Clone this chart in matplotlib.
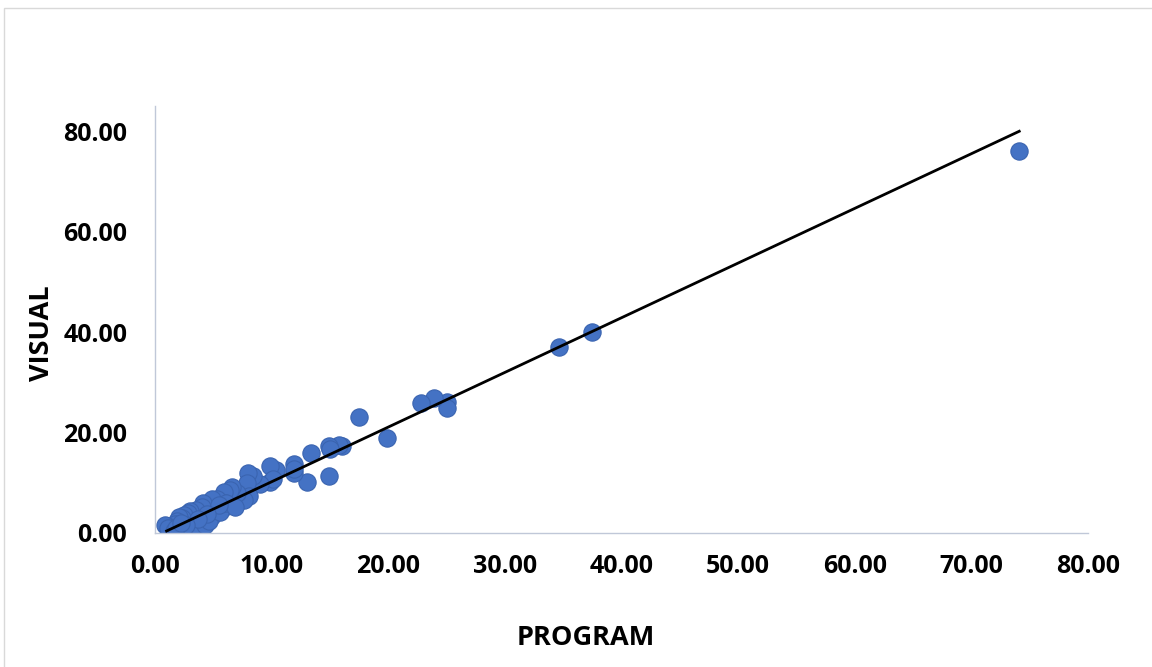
import numpy as np
import matplotlib.pyplot as plt
from matplotlib.patches import Rectangle

# values
program = [74.1, 37.5, 34.6, 25.0, 25.0, 23.9, 22.8, 19.9, 17.5, 16.0,
           15.8, 14.9, 15.0, 14.9, 13.4, 13.0, 11.9, 11.9, 11.9, 10.4,
           9.9, 9.9, 10.1, 9.0, 8.4, 8.0, 7.9, 8.1, 7.6, 7.0,
           6.6, 6.4, 5.9, 6.0, 5.8, 5.3, 4.9, 5.1, 4.9, 4.3,
           4.1, 4.0, 3.8, 3.5, 3.3, 3.0, 3.0, 2.8, 2.6, 2.5,
           2.3, 2.1, 2.0, 1.9, 1.7, 1.5, 1.4, 1.3, 1.2, 1.0,
           0.9, 1.1, 1.6, 2.1, 2.5, 2.9, 3.3, 3.9, 4.3, 4.6,
           5.6, 6.1, 6.9, 5.5, 4.5, 3.7, 2.7, 1.8, 2.2]
visual = [76.0, 40.0, 37.0, 26.1, 24.8, 26.8, 25.9, 19.0, 23.1, 17.3,
          17.5, 17.3, 16.7, 11.4, 16.0, 10.1, 13.7, 11.9, 12.8, 12.5,
          13.3, 10.2, 10.8, 9.7, 11.3, 11.9, 10.0, 7.4, 6.6, 7.9,
          9.2, 8.6, 8.2, 6.0, 4.9, 6.8, 6.7, 4.6, 3.3, 4.2,
          5.9, 5.2, 3.5, 4.6, 2.5, 4.4, 3.0, 3.9, 2.2, 3.5,
          2.9, 3.2, 1.5, 2.4, 1.8, 1.0, 0.5, 0.6, 0.2, 1.4,
          1.6, 1.0, 0.3, 0.6, 0.8, 0.9, 1.2, 0.5, 1.6, 2.4,
          4.2, 5.9, 5.2, 5.5, 3.8, 2.8, 1.5, 0.9, 1.9]

# trendline as shown in the reference
trend_slope = 1.089
trend_intercept = -0.69
trend_range = [1.0, 74.1]

ticks = [0, 10, 20, 30, 40, 50, 60, 70, 80]
yticks = [0, 20, 40, 60, 80]

plt.rcParams['font.family'] = ['Open Sans', 'DejaVu Sans']

fig = plt.figure(figsize=(11.52, 6.67), dpi=100)
ax = fig.add_axes([0.1345, 0.2009, 0.81, 0.6399])

# outer chart border
fig.patches.append(Rectangle((0.0035, -0.01), 1.0, 0.998, transform=fig.transFigure,
                             fill=False, edgecolor='#d9d9d9', linewidth=1))

ax.scatter(program, visual, s=155, color='#4472C4', edgecolor='#3a64b0',
           linewidth=0.8, zorder=2)

xs = np.array(trend_range)
ax.plot(xs, trend_slope * xs + trend_intercept, color='black', linewidth=2, zorder=3)

ax.set_xlim(0, 80)
ax.set_ylim(0, 85)
ax.set_xticks(ticks)
ax.set_yticks(yticks)
ax.set_xticklabels([f'{t:.2f}' for t in ticks])
ax.set_yticklabels([f'{t:.2f}' for t in yticks])
ax.tick_params(length=0, labelsize=18)
ax.tick_params(axis='x', pad=15)
ax.tick_params(axis='y', pad=20)
for lab in ax.get_xticklabels() + ax.get_yticklabels():
    lab.set_fontweight('bold')

for s in ['top', 'right']:
    ax.spines[s].set_visible(False)
for s in ['left', 'bottom']:
    ax.spines[s].set_color('#c0c8d8')
    ax.spines[s].set_linewidth(1)

fig.text(586 / 1152, 1 - 638 / 667, 'PROGRAM', fontsize=19.5, fontweight='bold',
         ha='center', va='center')
fig.text(42 / 1152, 1 - 333 / 667, 'VISUAL', fontsize=19.5, fontweight='bold',
         ha='center', va='center', rotation=90)

fig.savefig('out.png', dpi=100)
